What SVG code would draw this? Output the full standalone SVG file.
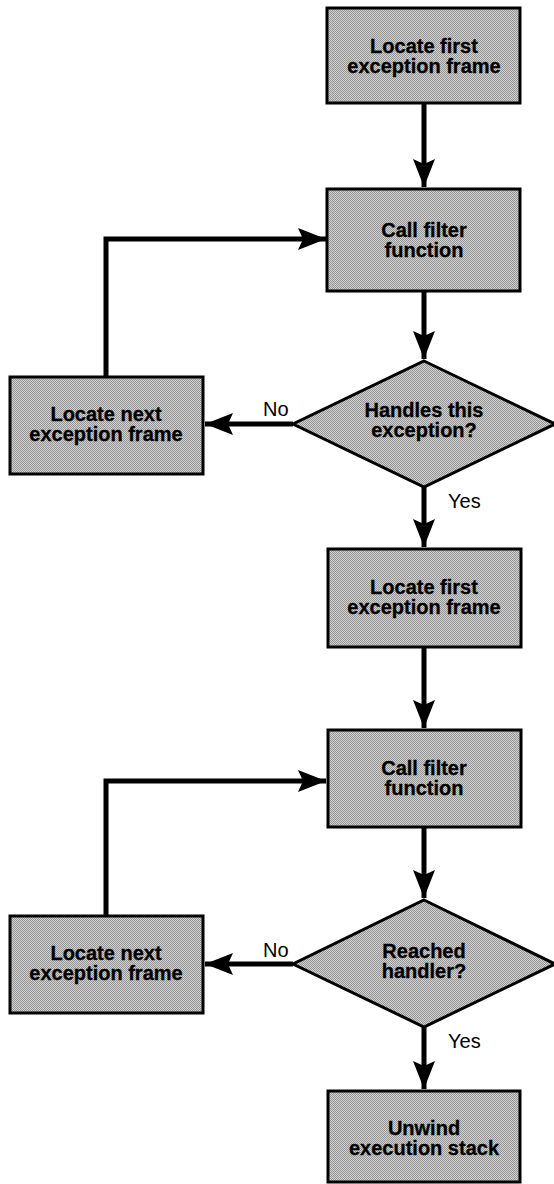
<svg xmlns="http://www.w3.org/2000/svg" width="554" height="1184" viewBox="0 0 554 1184">
  <style>
    .box { fill: url(#screen); stroke: #000; stroke-width: 3; }
    .lbl { font-family: "Liberation Sans", Arial, sans-serif; font-weight: bold; font-size: 20px; fill: #000; stroke: #000; stroke-width: 0.3; text-anchor: middle; }
    .edge { font-family: "Liberation Sans", Arial, sans-serif; font-size: 20px; fill: #000; }
    .wire { fill: none; stroke: #000; stroke-width: 5; stroke-linejoin: miter; }
  </style>
  <defs>
    <!-- halftone screen used as the node fill -->
    <pattern id="screen" patternUnits="userSpaceOnUse" width="2" height="2">
      <rect width="2" height="2" fill="#d4d4d4"/>
      <rect width="1" height="1" fill="#929292"/>
      <rect x="1" y="1" width="1" height="1" fill="#929292"/>
    </pattern>
    <marker id="head" markerUnits="userSpaceOnUse" markerWidth="30" markerHeight="24" refX="28" refY="11" orient="auto">
      <path d="M0,0 L28,11 L0,22 L5,11 Z" fill="#000"/>
    </marker>
  </defs>
  <rect width="554" height="1184" fill="#fff"/>

  <g id="connectors">
    <path class="wire" d="M424,103 V187" marker-end="url(#head)"/>
    <path class="wire" d="M424,291 V359" marker-end="url(#head)"/>
    <path class="wire" d="M293,424 H205" marker-end="url(#head)"/>
    <path class="wire" d="M106,377 V239 H326" marker-end="url(#head)"/>
    <path class="wire" d="M424,487 V547" marker-end="url(#head)"/>
    <path class="wire" d="M424,647 V728" marker-end="url(#head)"/>
    <path class="wire" d="M424,827 V898" marker-end="url(#head)"/>
    <path class="wire" d="M293,964 H205" marker-end="url(#head)"/>
    <path class="wire" d="M106,916 V781 H326" marker-end="url(#head)"/>
    <path class="wire" d="M424,1027 V1089" marker-end="url(#head)"/>
    <text class="edge" x="263" y="416">No</text>
    <text class="edge" x="448" y="508">Yes</text>
    <text class="edge" x="263" y="957">No</text>
    <text class="edge" x="448" y="1048">Yes</text>
  </g>

  <g id="locate-first-1">
    <rect class="box" x="327" y="8" width="193" height="95"/>
    <text class="lbl" x="424" y="53">Locate first</text>
    <text class="lbl" x="424" y="73">exception frame</text>
  </g>

  <g id="call-filter-1">
    <rect class="box" x="327" y="189" width="193" height="102"/>
    <text class="lbl" x="424" y="237">Call filter</text>
    <text class="lbl" x="424" y="257">function</text>
  </g>

  <g id="handles-exception">
    <polygon class="box" points="424,361 555,424 424,487 293,424"/>
    <text class="lbl" x="424" y="417">Handles this</text>
    <text class="lbl" x="424" y="437">exception?</text>
  </g>

  <g id="locate-next-1">
    <rect class="box" x="10" y="377" width="193" height="97"/>
    <text class="lbl" x="106" y="421">Locate next</text>
    <text class="lbl" x="106" y="441">exception frame</text>
  </g>

  <g id="locate-first-2">
    <rect class="box" x="328" y="549" width="193" height="98"/>
    <text class="lbl" x="424" y="594">Locate first</text>
    <text class="lbl" x="424" y="614">exception frame</text>
  </g>

  <g id="call-filter-2">
    <rect class="box" x="328" y="730" width="193" height="97"/>
    <text class="lbl" x="424" y="775">Call filter</text>
    <text class="lbl" x="424" y="795">function</text>
  </g>

  <g id="reached-handler">
    <polygon class="box" points="424,900 555,964 424,1027 293,964"/>
    <text class="lbl" x="424" y="958">Reached</text>
    <text class="lbl" x="424" y="978">handler?</text>
  </g>

  <g id="locate-next-2">
    <rect class="box" x="10" y="916" width="193" height="97"/>
    <text class="lbl" x="106" y="960">Locate next</text>
    <text class="lbl" x="106" y="980">exception frame</text>
  </g>

  <g id="unwind-stack">
    <rect class="box" x="328" y="1091" width="192" height="91"/>
    <text class="lbl" x="424" y="1135">Unwind</text>
    <text class="lbl" x="424" y="1155">execution stack</text>
  </g>
</svg>
